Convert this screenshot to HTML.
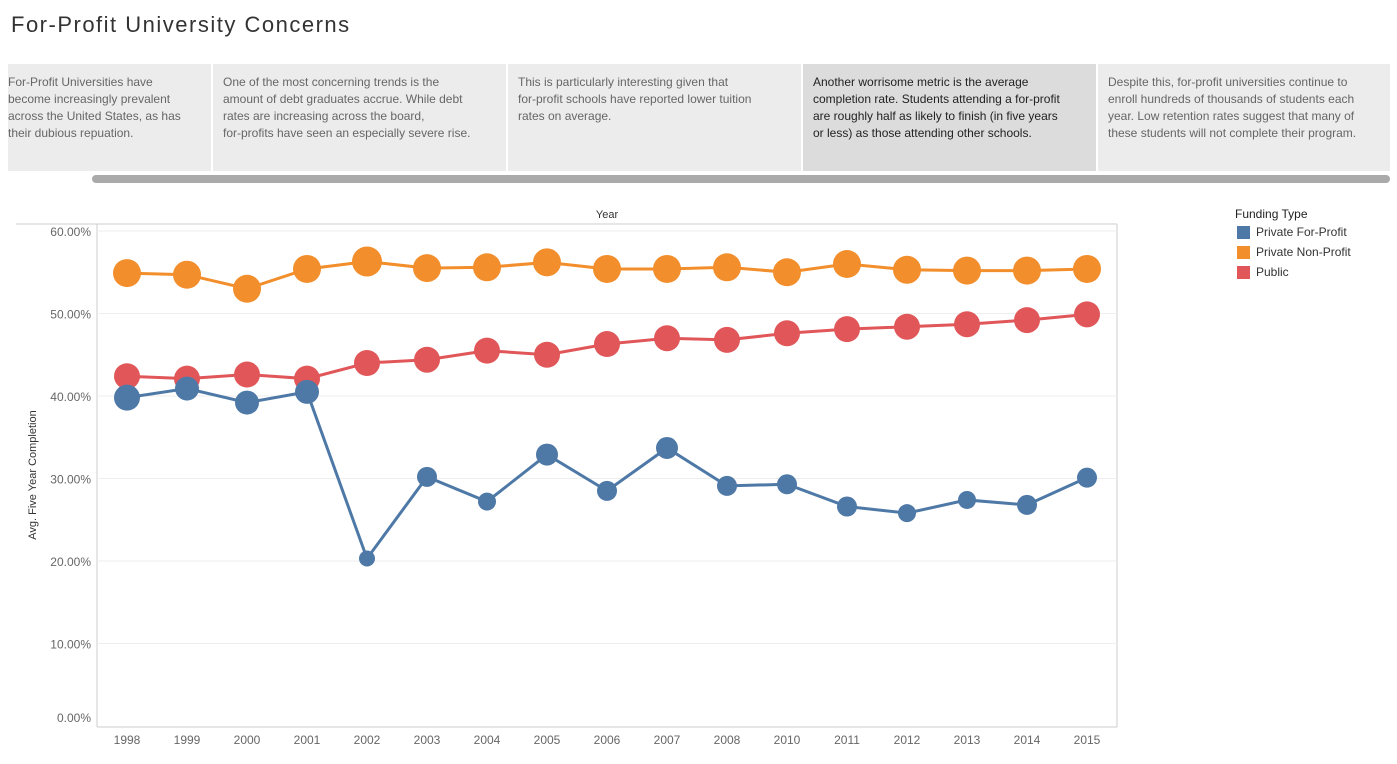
<!DOCTYPE html>
<html><head><meta charset="utf-8"><style>
body{margin:0;width:1397px;height:764px;background:#fff;font-family:"Liberation Sans",sans-serif;overflow:hidden;position:relative}
.title{position:absolute;left:11px;top:12px;font-size:22px;color:#333;letter-spacing:1.5px}
.card{position:absolute;top:64px;height:107px;background:#ececec;font-size:12px;line-height:17px;color:#666;padding:10px 4px 0 10px;box-sizing:border-box;white-space:nowrap;overflow:hidden}
.card.sel{background:#dcdcdc;color:#222}
.scroll{position:absolute;left:92px;top:175px;width:1298px;height:8px;background:#aaa;border-radius:4px}
.leg{position:absolute;left:1235px;font-size:12px;color:#333}
.sw{position:absolute;left:1237px;width:13px;height:13px}
</style></head><body>
<div class="title">For-Profit University Concerns</div>
<div class="card" style="left:8px;width:203px;padding-left:0">For-Profit Universities have<br>become increasingly prevalent<br>across the United States, as has<br>their dubious repuation.</div>
<div class="card" style="left:213px;width:293px">One of the most concerning trends is the<br>amount of debt graduates accrue. While debt<br>rates are increasing across the board,<br>for-profits have seen an especially severe rise.</div>
<div class="card" style="left:508px;width:293px">This is particularly interesting given that<br>for-profit schools have reported lower tuition<br>rates on average.</div>
<div class="card sel" style="left:803px;width:293px">Another worrisome metric is the average<br>completion rate. Students attending a for-profit<br>are roughly half as likely to finish (in five years<br>or less) as those attending other schools.</div>
<div class="card" style="left:1098px;width:292px">Despite this, for-profit universities continue to<br>enroll hundreds of thousands of students each<br>year. Low retention rates suggest that many of<br>these students will not complete their program.</div>
<div class="scroll"></div>
<div class="leg" style="top:207px;color:#222">Funding Type</div>
<div class="sw" style="top:226px;background:#4e79a7"></div>
<div class="leg" style="left:1256px;top:225px">Private For-Profit</div>
<div class="sw" style="top:246px;background:#f28e2b"></div>
<div class="leg" style="left:1256px;top:245px">Private Non-Profit</div>
<div class="sw" style="top:266px;background:#e15759"></div>
<div class="leg" style="left:1256px;top:265px">Public</div>
<svg id="chart" width="1397" height="764" style="position:absolute;left:0;top:0"></svg>
<script>
const years=["1998","1999","2000","2001","2002","2003","2004","2005","2006","2007","2008","2010","2011","2012","2013","2014","2015"];
const nonProfit=[54.9,54.7,53.0,55.4,56.3,55.5,55.6,56.2,55.4,55.4,55.6,55.0,56.0,55.3,55.2,55.2,55.4];
const publicV=[42.4,42.1,42.6,42.1,44.0,44.4,45.5,45.0,46.3,47.0,46.8,47.6,48.1,48.4,48.7,49.2,49.9];
const forProfit=[39.8,40.9,39.2,40.5,20.3,30.2,27.2,32.9,28.5,33.7,29.1,29.3,26.6,25.8,27.4,26.8,30.1];
const nonProfitSize=[14,14,14,14,15,14,14,14,14,14,14,14,14,14,14,14,14];
const publicSize=[13,13,13,13,13,13,13,13,13,13,13,13,13,13,13,13,13];
const forProfitSize=[13,12,12,12,8,10,9,11,10,11,10,10,10,9,9,10,10];
const yTicks=[0,10,20,30,40,50,60];
const svg=document.getElementById('chart');const NS='http://www.w3.org/2000/svg';
const X0=97,X1=1117,Y0=224,Y1=727;
const x=i=>127+i*60;const y=v=>726-v*8.25;
function el(t,a,p){const e=document.createElementNS(NS,t);for(const k in a)e.setAttribute(k,a[k]);(p||svg).appendChild(e);return e;}
el('line',{x1:16,x2:X1,y1:Y0,y2:Y0,stroke:'#ccc'});
el('line',{x1:X1,x2:X1,y1:Y0,y2:Y1,stroke:'#ccc'});
el('line',{x1:X0,x2:X0,y1:Y0,y2:Y1,stroke:'#ccc'});
el('line',{x1:X0,x2:X1,y1:Y1,y2:Y1,stroke:'#ccc'});
yTicks.forEach(t=>{
 if(t>0){const g=el('line',{x1:X0,x2:X1,y1:y(t),y2:y(t),stroke:'#eee'});
 }
 const tx=el('text',{x:91,y:t===0?722:y(t)+5,'text-anchor':'end','font-size':12,fill:'#666'});
 tx.textContent=t.toFixed(2)+'%';
 
 
});
years.forEach((yr,i)=>{const t=el('text',{x:x(i),y:744,'text-anchor':'middle','font-size':12,fill:'#666'});t.textContent=yr;
 
 });
const xt=el('text',{x:607,y:218,'text-anchor':'middle','font-size':11,fill:'#333'});xt.textContent='Year';


const yt=el('text',{x:36,y:475,'text-anchor':'middle','font-size':11,fill:'#333',transform:'rotate(-90 36 475)'});yt.textContent='Avg. Five Year Completion';


function series(vals,sizes,color,name){
 const pl=el('polyline',{points:vals.map((v,i)=>x(i)+','+y(v)).join(' '),fill:'none',stroke:color,'stroke-width':3});
 
 
 vals.forEach((v,i)=>{const c=el('circle',{cx:x(i),cy:y(v),r:sizes[i],fill:color});
  
  });
}
series(nonProfit,nonProfitSize,'#f28e2b','non-profit');
series(publicV,publicSize,'#e15759','public');
series(forProfit,forProfitSize,'#4e79a7','for-profit');
</script>
</body></html>
